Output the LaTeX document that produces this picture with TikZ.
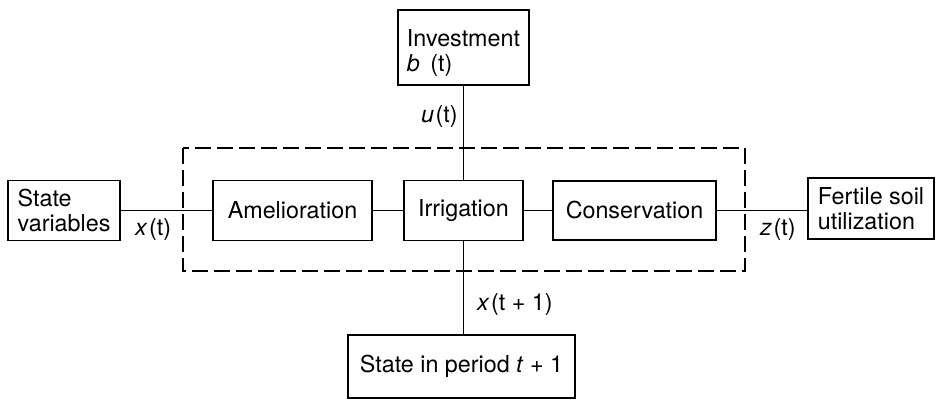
\documentclass[tikz,border=0pt]{standalone}
\usepackage{fontspec}
\setmainfont{TeX Gyre Heros}
\begin{document}
\begin{tikzpicture}[x=1pt,y=-1pt,
  every node/.style={font=\fontsize{23.3}{24.5}\selectfont},
  blockbox/.style={draw, line width=1.8pt, rectangle, inner sep=0pt, align=left},
  wire/.style={line width=1.8pt},
  boundary/.style={line width=1.4pt, dash pattern=on 16pt off 6pt},
  sig/.style={inner sep=0pt, anchor=base west}]
\useasboundingbox (0,0) rectangle (936,399);

% blocks
\node[blockbox, minimum width=131pt, minimum height=75pt] (inv) at (463.5,47.5)
  {\rule{0pt}{28pt}Investment\\\textit{b}\ \,(t)};
\node[blockbox, minimum width=112pt, minimum height=60pt] (sv) at (64,210.5)
  {State\\variables};
\node[blockbox, minimum width=159pt, minimum height=60pt] (ame) at (292.5,210.5)
  {Amelioration};
\node[blockbox, minimum width=119pt, minimum height=60pt] (irr) at (463.5,210.5)
  {Irrigation};
\node[blockbox, minimum width=163pt, minimum height=59pt] (con) at (634.5,210.5)
  {Conservation};
\node[blockbox, minimum width=126pt, minimum height=61pt] (fs) at (871,208.5)
  {Fertile soil\\utilization};
\node[blockbox, minimum width=227pt, minimum height=63pt] (sp) at (461.5,366.5)
  {State in period \textit{t} + 1};

% system boundary
\draw[boundary] (183,148) rectangle (745,271);

% connectors
\draw[wire] (sv.east) -- (ame.west);
\draw[wire] (ame.east) -- (irr.west);
\draw[wire] (irr.east) -- (con.west);
\draw[wire] (con.east) -- (con.east -| fs.west);
\draw[wire] (inv.south) -- (irr.north);
\draw[wire] (irr.south) -- (irr.south |- sp.north);

% signal labels
\node[sig] (lx) at (135,235) {\textit{x}\kern1.5pt(t)};
\node[sig] (lu) at (421,122) {\textit{u}\kern1.5pt(t)};
\node[sig] (lz) at (760,235) {\textit{z}\kern1.5pt(t)};
\node[sig] (lx1) at (477,310) {\textit{x}\kern1.5pt(t + 1)};
\end{tikzpicture}
\end{document}
